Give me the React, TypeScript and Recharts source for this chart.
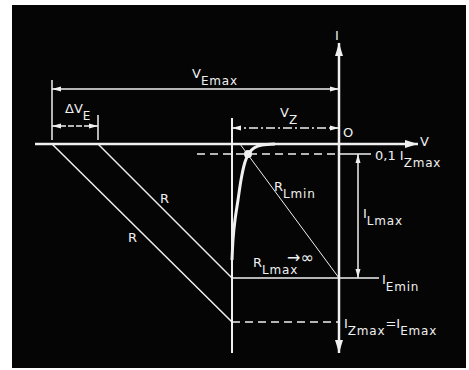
import { ComposedChart, Line, Scatter, XAxis, YAxis } from 'recharts';

type Pt = { v: number; i: number };
type Dir = 'up' | 'down' | 'left' | 'right';
type Arrow = Pt & { dir: Dir };
type Label = Pt & { parts: [string, boolean][]; anchor?: 'start' | 'middle' };

// figure values in grid units, origin O at (0, 0), reverse current downward
const vEmax = -28.7;
const vEmin = -24.1;
const vZ = -10.7;
const iTenth = -1.0; // 0,1 Izmax level
const iEmin = -13.4;
const iZmax = -17.8;

const vAxis: Pt[] = [{ v: -30.4, i: 0 }, { v: 7.9, i: 0 }];
const iAxis: Pt[] = [{ v: 0, i: 10.1 }, { v: 0, i: -20.9 }];

// zener characteristic near the knee
const zenerCurve: Pt[] = [
  { v: -6.4, i: 0 },
  { v: -7.7, i: -0.1 },
  { v: -8.5, i: -0.4 },
  { v: -9.0, i: -0.9 },
  { v: -9.4, i: -1.8 },
  { v: -9.8, i: -3.6 },
  { v: -10.1, i: -5.6 },
  { v: -10.4, i: -7.6 },
  { v: -10.6, i: -9.6 },
  { v: -10.7, i: -11.6 },
];

const vzLine: Pt[] = [{ v: vZ, i: 2.6 }, { v: vZ, i: -20.9 }];
const loadLineMax: Pt[] = [{ v: vEmax, i: 0 }, { v: vZ, i: iZmax }];
const loadLineMin: Pt[] = [{ v: vEmin, i: 0 }, { v: vZ, i: iEmin }];
const rlMinLine: Pt[] = [{ v: -9.9, i: 0 }, { v: 0, i: iEmin }];

const vEmaxDim: Pt[] = [{ v: vEmax, i: 5.5 }, { v: 0, i: 5.5 }];
const vEmaxTick: Pt[] = [{ v: vEmax, i: 6.4 }, { v: vEmax, i: 0.4 }];
const dvDim: Pt[] = [{ v: vEmax, i: 1.8 }, { v: vEmin, i: 1.8 }];
const dvTick: Pt[] = [{ v: vEmin, i: 2.9 }, { v: vEmin, i: 0.4 }];
const vzDim: Pt[] = [{ v: vZ, i: 1.6 }, { v: 0, i: 1.6 }];

const tenthDashed: Pt[] = [{ v: -14.2, i: iTenth }, { v: 0.6, i: iTenth }];
const tenthTick: Pt[] = [{ v: 0.6, i: iTenth }, { v: 3.2, i: iTenth }];
const iLmaxDim: Pt[] = [{ v: 1.9, i: iTenth }, { v: 1.9, i: iEmin }];
const iEminLine: Pt[] = [{ v: vZ, i: iEmin }, { v: 4.0, i: iEmin }];
const iZmaxDashed: Pt[] = [{ v: vZ, i: iZmax }, { v: 0, i: iZmax }];

const kneeDot: Pt[] = [{ v: -9.1, i: iTenth }];

const axisArrows: Arrow[] = [
  { v: 7.9, i: 0, dir: 'right' },
  { v: 0, i: 10.1, dir: 'up' },
  { v: 0, i: -20.9, dir: 'down' },
];

const dimArrows: Arrow[] = [
  { v: vEmax, i: 5.5, dir: 'left' },
  { v: 0, i: 5.5, dir: 'right' },
  { v: vEmax, i: 1.8, dir: 'left' },
  { v: vEmin, i: 1.8, dir: 'right' },
  { v: vZ, i: 1.6, dir: 'left' },
  { v: 0, i: 1.6, dir: 'right' },
  { v: 1.9, i: iTenth, dir: 'up' },
  { v: 1.9, i: iEmin, dir: 'down' },
];

const labels: Label[] = [
  { v: -0.2, i: 10.4, parts: [['I', false]], anchor: 'middle' },
  { v: 8.1, i: -0.2, parts: [['V', false]] },
  { v: 0.4, i: 0.7, parts: [['O', false]] },
  { v: -14.7, i: 6.6, parts: [['V', false], ['Emax', true]] },
  { v: -27.4, i: 3.1, parts: [['ΔV', false], ['E', true]] },
  { v: -5.9, i: 2.7, parts: [['V', false], ['Z', true]] },
  { v: 3.6, i: -1.6, parts: [['0,1 I', false], ['Zmax', true]] },
  { v: -6.5, i: -4.7, parts: [['R', false], ['Lmin', true]] },
  { v: 2.4, i: -7.4, parts: [['I', false], ['Lmax', true]] },
  { v: -17.9, i: -5.9, parts: [['R', false]] },
  { v: -21.1, i: -9.8, parts: [['R', false]] },
  { v: -8.6, i: -12.3, parts: [['R', false], ['Lmax', true]] },
  { v: 4.3, i: -14.0, parts: [['I', false], ['Emin', true]] },
  { v: 0.5, i: -18.4, parts: [['I', false], ['Zmax', true], ['=I', false], ['Emax', true]] },
];

const infinityNote: Pt[] = [{ v: -5.2, i: -11.9 }];

const INK = '#f0f0f0';
const FONT = '"DejaVu Sans", sans-serif';

function arrowPath(cx: number, cy: number, dir: Dir, len: number, half: number) {
  switch (dir) {
    case 'right':
      return `M${cx},${cy}L${cx - len},${cy - half}L${cx - len},${cy + half}Z`;
    case 'left':
      return `M${cx},${cy}L${cx + len},${cy - half}L${cx + len},${cy + half}Z`;
    case 'up':
      return `M${cx},${cy}L${cx - half},${cy + len}L${cx + half},${cy + len}Z`;
    default:
      return `M${cx},${cy}L${cx - half},${cy - len}L${cx + half},${cy - len}Z`;
  }
}

const AxisArrow = (p: any) => <path d={arrowPath(p.cx, p.cy, p.payload.dir, 13, 4)} fill={INK} />;
const DimArrow = (p: any) => <path d={arrowPath(p.cx, p.cy, p.payload.dir, 9, 2.5)} fill={INK} />;
const Dot = (p: any) => <circle cx={p.cx} cy={p.cy} r={4} fill={INK} />;

const TextMark = (p: any) => {
  const lbl: Label = p.payload;
  let low = false;
  return (
    <text x={p.cx} y={p.cy} fill={INK} fontFamily={FONT} fontSize={13} textAnchor={lbl.anchor ?? 'start'}>
      {lbl.parts.map(([t, sub], k) => {
        const dy = sub === low ? 0 : sub ? 7 : -7;
        low = sub;
        return (
          <tspan key={k} dy={dy} fontSize={sub ? 12 : 13} letterSpacing={sub ? 0.8 : 0}>
            {t}
          </tspan>
        );
      })}
    </text>
  );
};

const InfinityMark = (p: any) => (
  <text x={p.cx} y={p.cy} fill={INK} fontFamily={FONT} fontSize={16}>
    →∞
  </text>
);

const seg = (data: Pt[], width: number, dash?: string) => (
  <Line
    data={data}
    dataKey="i"
    type="linear"
    stroke={INK}
    strokeWidth={width}
    strokeDasharray={dash}
    dot={false}
    activeDot={false}
    isAnimationActive={false}
  />
);

export default function App() {
  return (
    <div style={{ position: 'fixed', left: 0, top: 0, width: 469, height: 370, background: '#fff' }}>
      <div style={{ position: 'absolute', left: 12, top: 5, width: 454, height: 363, background: '#050505' }} />
      <div style={{ position: 'absolute', left: 0, top: 0 }}>
        <ComposedChart width={469} height={370} margin={{ top: 0, right: 0, bottom: 0, left: 0 }}>
          <XAxis type="number" dataKey="v" domain={[-33.9, 13]} allowDataOverflow hide />
          <YAxis type="number" domain={[-22.6, 14.4]} allowDataOverflow hide />

          {seg(vAxis, 2.5)}
          {seg(iAxis, 2.5)}
          {seg(vzLine, 2)}
          {seg(loadLineMax, 1.5)}
          {seg(loadLineMin, 1.5)}
          {seg(rlMinLine, 1)}
          {seg(vEmaxDim, 1.5)}
          {seg(vEmaxTick, 1.5)}
          {seg(dvDim, 1.5, '6 2')}
          {seg(dvTick, 1.5)}
          {seg(vzDim, 1.5, '9 3 2 3')}
          {seg(tenthDashed, 1.5, '8 5')}
          {seg(tenthTick, 1.5)}
          {seg(iLmaxDim, 1.5)}
          {seg(iEminLine, 1.5)}
          {seg(iZmaxDashed, 1.5, '8 5')}

          <Line
            data={zenerCurve}
            dataKey="i"
            type="natural"
            stroke={INK}
            strokeWidth={3}
            dot={false}
            activeDot={false}
            isAnimationActive={false}
          />

          <Scatter data={kneeDot} dataKey="i" shape={Dot} isAnimationActive={false} />
          <Scatter data={axisArrows} dataKey="i" shape={AxisArrow} isAnimationActive={false} />
          <Scatter data={dimArrows} dataKey="i" shape={DimArrow} isAnimationActive={false} />
          <Scatter data={labels} dataKey="i" shape={TextMark} isAnimationActive={false} />
          <Scatter data={infinityNote} dataKey="i" shape={InfinityMark} isAnimationActive={false} />
        </ComposedChart>
      </div>
    </div>
  );
}
